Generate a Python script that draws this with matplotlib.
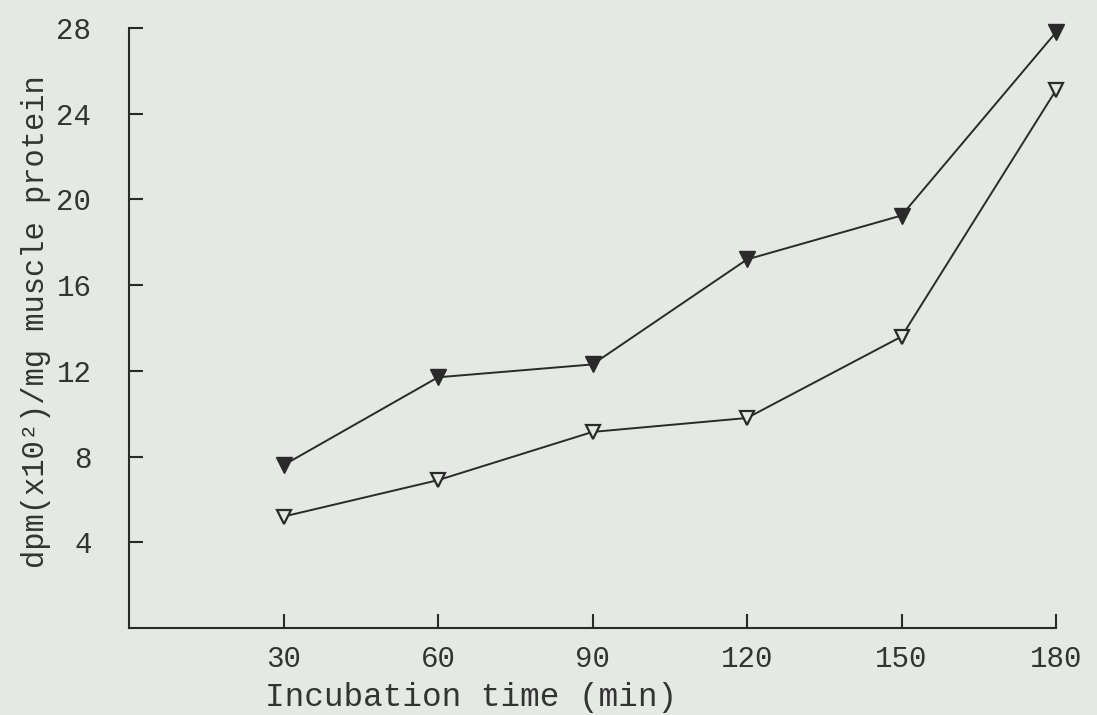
import matplotlib
matplotlib.use("Agg")
import matplotlib.pyplot as plt

# Data
time_min = [30, 60, 90, 120, 150, 180]
filled_series = [7.6, 11.7, 12.3, 17.2, 19.25, 27.8]
open_series = [5.2, 6.9, 9.15, 9.8, 13.6, 25.1]
x_ticks = [30, 60, 90, 120, 150, 180]
y_ticks = [4, 8, 12, 16, 20, 24, 28]

BG = "#e4e9e3"
INK = "#2a2a2a"
FONT = ["Liberation Mono", "DejaVu Sans Mono"]

plt.rcParams["font.family"] = FONT

fig = plt.figure(figsize=(10.97, 7.15), dpi=100, facecolor=BG)
W, H = 1097, 715
left, right, bottom, top = 129, 1056, 628, 28
ax = fig.add_axes([left / W, 1 - bottom / H, (right - left) / W, (bottom - top) / H])
ax.set_facecolor(BG)

ax.plot(time_min, filled_series, color=INK, lw=1.4, marker="v", ms=12,
        mfc=INK, mec=INK, clip_on=False, zorder=3)
ax.plot(time_min, open_series, color=INK, lw=1.4, marker="v", ms=10.5,
        mfc=BG, mec=INK, mew=1.6, clip_on=False, zorder=3)

ax.set_xlim(0, 180)
ax.set_ylim(0, 28)
ax.set_xticks(x_ticks)
ax.set_yticks(y_ticks)
ax.set_xticklabels([str(v) for v in x_ticks])
ax.set_yticklabels([str(v) for v in y_ticks])

for s in ("top", "right"):
    ax.spines[s].set_visible(False)
for s in ("left", "bottom"):
    ax.spines[s].set_linewidth(1.5)
    ax.spines[s].set_color(INK)

ax.tick_params(axis="both", direction="in", length=10, width=1.5, color=INK,
               labelcolor="#333333", labelsize=21)
ax.tick_params(axis="y", pad=27)
ax.tick_params(axis="x", pad=12)

ax.set_xlabel("Incubation time (min)", fontsize=23.5, color="#333333")
ax.xaxis.set_label_coords(0.369, -0.09)
ax.set_ylabel("dpm(x10²)/mg muscle protein", fontsize=22, color="#333333",
              va="center")
ax.yaxis.set_label_coords(-0.1, 0.51)

fig.savefig("out.png", dpi=100, facecolor=BG)
